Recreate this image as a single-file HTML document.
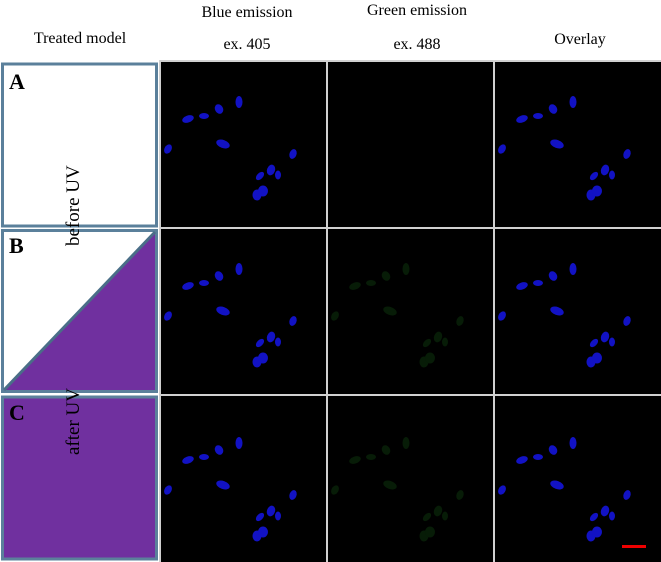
<!DOCTYPE html>
<html><head><style>body{margin:0;background:#fff}svg{display:block}</style></head><body>
<svg width="661" height="562" xmlns="http://www.w3.org/2000/svg" font-family="Liberation Serif, serif">
<defs>
<g id="cells">
<ellipse cx="27" cy="57" rx="6" ry="3.5" transform="rotate(-20 27 57)"/>
<ellipse cx="43" cy="54" rx="5" ry="3"/>
<ellipse cx="58" cy="47" rx="4" ry="5" transform="rotate(-30 58 47)"/>
<ellipse cx="78" cy="40" rx="3.5" ry="6"/>
<ellipse cx="7" cy="87" rx="3.5" ry="5" transform="rotate(30 7 87)"/>
<ellipse cx="62" cy="82" rx="7" ry="4" transform="rotate(20 62 82)"/>
<ellipse cx="132" cy="92" rx="3.5" ry="5" transform="rotate(20 132 92)"/>
<ellipse cx="99" cy="114" rx="3" ry="5" transform="rotate(45 99 114)"/>
<ellipse cx="110" cy="108" rx="4" ry="5.5" transform="rotate(20 110 108)"/>
<ellipse cx="117" cy="113" rx="3" ry="4.5"/>
<ellipse cx="96" cy="133" rx="4.5" ry="5.5"/>
<ellipse cx="102" cy="129" rx="5" ry="5.5"/>
</g>
</defs>
<g font-size="16" fill="#000" text-anchor="middle">
<text x="80" y="43">Treated model</text>
<text x="247" y="17">Blue emission</text>
<text x="247" y="49">ex. 405</text>
<text x="417" y="15">Green emission</text>
<text x="417" y="49">ex. 488</text>
<text x="580" y="44">Overlay</text>
</g>
<rect x="2.5" y="64" width="154" height="162" fill="#fff" stroke="#5b809b" stroke-width="3"/>
<rect x="2.5" y="230.5" width="154" height="161" fill="#fff" stroke="#5b809b" stroke-width="3"/>
<polygon points="4,390 155,232 155,390" fill="#70309f"/>
<line x1="4" y1="390" x2="155" y2="232" stroke="#4a6e88" stroke-width="3"/>
<rect x="2.5" y="397" width="154" height="162" fill="#70309f" stroke="#5b809b" stroke-width="3"/>
<g font-size="22" font-weight="bold">
<text x="9" y="89">A</text><text x="9" y="253">B</text><text x="9" y="420">C</text>
</g>
<text font-size="19" transform="translate(79,246) rotate(-90)">before UV</text>
<text font-size="19" transform="translate(79,455) rotate(-90)">after UV</text>
<rect x="159" y="60" width="502" height="502" fill="#d0d0d0"/>
<g fill="#000">
<rect x="161" y="62" width="165" height="165"/><rect x="328" y="62" width="165" height="165"/><rect x="495" y="62" width="166" height="165"/>
<rect x="161" y="229" width="165" height="165"/><rect x="328" y="229" width="165" height="165"/><rect x="495" y="229" width="166" height="165"/>
<rect x="161" y="396" width="165" height="166"/><rect x="328" y="396" width="165" height="166"/><rect x="495" y="396" width="166" height="166"/>
</g>
<g fill="#1212c4">
<use href="#cells" transform="translate(161,62)"/>
<use href="#cells" transform="translate(495,62)"/>
<use href="#cells" transform="translate(161,229)"/>
<use href="#cells" transform="translate(495,229)"/>
<use href="#cells" transform="translate(161,403)"/>
<use href="#cells" transform="translate(495,403)"/>
</g>
<g fill="#071c07">
<use href="#cells" transform="translate(328,229)"/>
<use href="#cells" transform="translate(328,403)"/>
</g>
<rect x="622" y="545" width="24" height="3" fill="#e00"/>
</svg>
</body></html>
